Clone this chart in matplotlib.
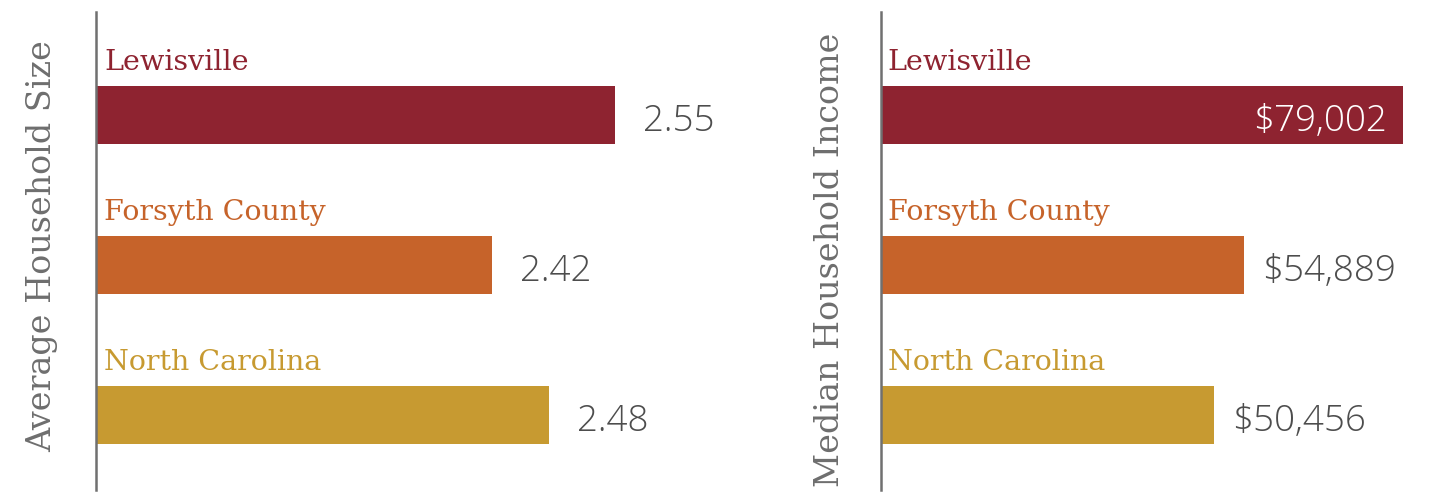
import matplotlib
matplotlib.use("Agg")
from matplotlib import pyplot as plt

places = ["Lewisville", "Forsyth County", "North Carolina"]
hh_size = [2.55, 2.42, 2.48]
hh_income = [79002, 54889, 50456]
size_labels = ["2.55", "2.42", "2.48"]
income_labels = ["$79,002", "$54,889", "$50,456"]
colors = ["#8E2330", "#C6632A", "#C79A31"]

W, H = 1443, 493
fig = plt.figure(figsize=(W / 100, H / 100), dpi=100)

serif = "DejaVu Serif"
sans = "Open Sans"
gray = "#4d4d4d"


def panel(left_px, width_px, values, labels, xlim, title, title_x, title_y, gap):
    ax = fig.add_axes([left_px / W, (H - 490) / H, width_px / W, 478 / H])
    ypos = range(len(values))
    ax.barh(ypos, [v - xlim[0] for v in values], left=xlim[0], height=0.387, color=colors)
    ax.set_xlim(*xlim)
    ax.set_ylim(2.5, -0.687)
    for s in ["top", "right", "bottom"]:
        ax.spines[s].set_visible(False)
    ax.spines["left"].set_color("#707070")
    ax.spines["left"].set_linewidth(1.8)
    ax.set_xticks([])
    ax.set_yticks([])
    span = xlim[1] - xlim[0]
    for i, (v, lab, name) in enumerate(zip(values, labels, places)):
        ax.text(xlim[0] + span * 0.012, i - 0.3, name, color=colors[i], fontsize=20.5,
                family=serif, va="baseline", ha="left")
        # the first bar on the income side carries its label inside
        if gap < 0.035 and i == 0:
            ax.text(v - span * 0.03, i + 0.04, lab, color="white", fontsize=26.5,
                    family=sans, va="center", ha="right", fontweight="light")
        else:
            ax.text(v + span * gap, i + 0.04, lab, color=gray, fontsize=26.5,
                    family=sans, va="center", ha="left", fontweight="light")
    fig.text(title_x / W, title_y, title, rotation=90, color="#6e6e6e", fontsize=24,
             family=serif, ha="center", va="center")
    return ax


panel(96, 700, hh_size, size_labels, (2.0, 2.0 + 700 / 943),
      "Average Household Size", 42, 0.5, 0.04)
panel(881, 545, hh_income, income_labels, (0, 545 / 6.607 * 1000),
      "Median Household Income", 830, 0.473, 0.033)

fig.savefig("out.png", dpi=100)
